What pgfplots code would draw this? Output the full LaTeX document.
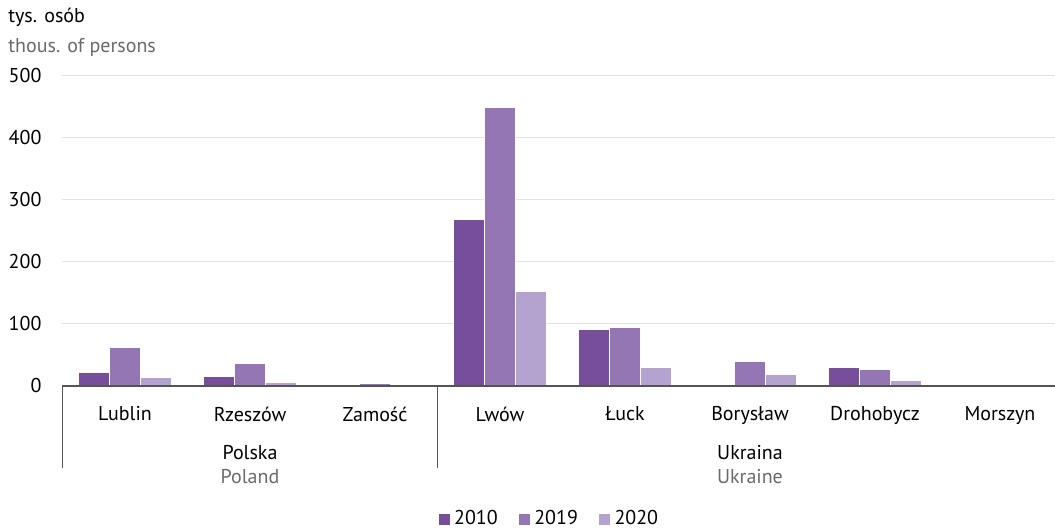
\documentclass[border=0pt]{standalone}
\usepackage{pgfplots}
\pgfplotsset{compat=1.18}
\usepackage{fontspec}
\setmainfont{PT Sans}
\definecolor{cA}{HTML}{764E9A}
\definecolor{cB}{HTML}{9376B3}
\definecolor{cC}{HTML}{B4A2CF}
\definecolor{grid}{HTML}{E2E2E2}
\definecolor{axl}{HTML}{555555}
\definecolor{eng}{HTML}{6A6A6A}
\begin{document}
\fontsize{10pt}{12pt}\selectfont
\begin{tikzpicture}
\begin{axis}[
  scale only axis, width=496.25pt, height=155.5pt,
  xmin=-0.5, xmax=7.44, ymin=0, ymax=500,
  ybar=0pt, bar width=15.5pt,
  axis x line*=bottom, axis y line*=left,
  x axis line style={draw=none, -},
  y axis line style={draw=none},
  ytick={0,100,200,300,400,500},
  ymajorgrids, grid style={draw=grid, line width=0.5pt},
  tick style={draw=none},
  xtick={0,...,7},
  xticklabels={Lublin,Rzeszów,Zamość,Lwów,Łuck,Borysław,Drohobycz,Morszyn},
  xticklabel style={yshift=-2.5pt},
  yticklabel style={xshift=-7pt},
  /pgf/number format/assume math mode=true,
  clip=false,
  legend columns=3,
  legend style={at={(0.491,-0.428)}, anchor=center, draw=none, fill=none,
    /tikz/every even column/.append style={column sep=8pt}},
  legend image code/.code={\fill[#1] (0pt,-3pt) rectangle (6pt,3pt);},
  legend cell align=left,
]
\addplot[fill=cA, draw=white, line width=0.3pt] coordinates {(0,22.5) (1,16) (2,3) (3,268) (4,90.5) (5,0) (6,30.5) (7,0)};
\addplot[fill=cB, draw=white, line width=0.3pt] coordinates {(0,62) (1,36.5) (2,4) (3,448.5) (4,93.7) (5,40) (6,27.3) (7,0)};
\addplot[fill=cC, draw=white, line width=0.3pt] coordinates {(0,14) (1,6) (2,0.3) (3,152.7) (4,30.5) (5,19) (6,9.6) (7,0)};
\legend{2010,2019,2020}
\coordinate (bl) at (axis description cs:0,0);
\coordinate (tl) at (axis description cs:0,1);
\draw[axl, line width=0.55pt] (axis cs:-0.5,0) -- (axis cs:7.44,0);
\draw[axl, line width=0.5pt] (axis cs:-0.5,0) -- ([yshift=-41pt]axis cs:-0.5,0);
\draw[axl, line width=0.5pt] (axis cs:2.5,0) -- ([yshift=-41pt]axis cs:2.5,0);
\node[anchor=base] at ([yshift=-37pt]axis cs:1,0) {Polska};
\node[anchor=base, text=eng] at ([yshift=-49pt]axis cs:1,0) {Poland};
\node[anchor=base] at ([yshift=-37pt]axis cs:5,0) {Ukraina};
\node[anchor=base, text=eng] at ([yshift=-49pt]axis cs:5,0) {Ukraine};
\node[anchor=base west, inner sep=0pt] at ([xshift=-27.25pt, yshift=26.5pt]tl) {tys. osób};
\node[anchor=base west, inner sep=0pt, text=eng] at ([xshift=-27.25pt, yshift=11.5pt]tl) {thous. of persons};
\end{axis}
\pgfresetboundingbox
\path (bl) ++(-31.25pt,-71.5pt) rectangle ++(527.5pt,264.5pt);
\end{tikzpicture}
\end{document}
